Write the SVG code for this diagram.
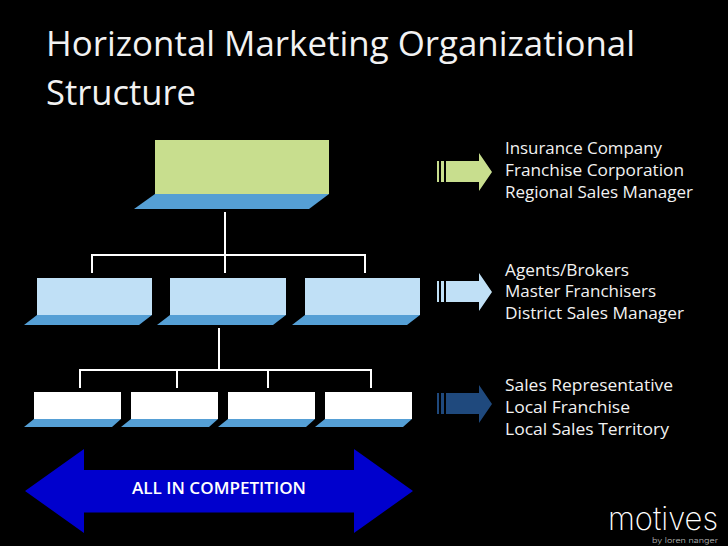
<svg xmlns="http://www.w3.org/2000/svg" width="728" height="546" viewBox="0 0 728 546">
<style>
text{font-family:"Open Sans","DejaVu Sans",sans-serif;fill:#fff}
.t{font-size:35px;fill:#f2f2f2}
.l{font-size:16.5px;fill:#f2f2f2}
.g{fill:#c8de8e}.b{fill:#c0e0f6}.w{fill:#fff}.s{fill:#559fd5}
.c{fill:none;stroke:#fff;stroke-width:2}
</style>
<defs>
<g id="arrow"><path d="M446 161H479V153L492 172L479 191V182H446ZM437 161H439V182H437ZM441 161H444V182H441Z"/></g>
</defs>
<rect width="728" height="546" fill="#000"/>
<g id="title">
<text class="t" x="46" y="56" textLength="589" lengthAdjust="spacingAndGlyphs">Horizontal Marketing Organizational</text>
<text class="t" x="46" y="105" textLength="150" lengthAdjust="spacingAndGlyphs">Structure</text>
</g>
<g id="connectors">
<path class="c" d="M225 212V273M92 273V255H365V273"/>
<path class="c" d="M219 328V370M80 388V370H371V388M177 370V388M268 370V388"/>
</g>
<g id="node-top"><rect class="g" x="155" y="140" width="174" height="54"/><path class="s" d="M155 194H329L309 209H134Z"/></g>
<g id="node-mid-1"><rect class="b" x="37" y="278" width="115" height="37"/><path class="s" d="M37 315H152L139 325H24Z"/></g>
<g id="node-mid-2"><rect class="b" x="170" y="278" width="116" height="37"/><path class="s" d="M170 315H286L273 325H157Z"/></g>
<g id="node-mid-3"><rect class="b" x="305" y="278" width="115" height="37"/><path class="s" d="M305 315H420L407 325H292Z"/></g>
<g id="node-low-1"><rect class="w" x="34" y="392" width="87" height="27"/><path class="s" d="M34 419H121L112 427H24Z"/></g>
<g id="node-low-2"><rect class="w" x="131" y="392" width="87" height="27"/><path class="s" d="M131 419H218L209 427H121Z"/></g>
<g id="node-low-3"><rect class="w" x="228" y="392" width="87" height="27"/><path class="s" d="M228 419H315L306 427H218Z"/></g>
<g id="node-low-4"><rect class="w" x="325" y="392" width="87" height="27"/><path class="s" d="M325 419H412L403 427H315Z"/></g>
<g id="competition">
<path fill="#0000cd" d="M25 491L84 449V470H354V449L413 491L354 533V512.500H84V533Z"/>
<text x="219" y="494" font-size="16.500" font-weight="600" text-anchor="middle" textLength="174" lengthAdjust="spacingAndGlyphs">ALL IN COMPETITION</text>
</g>
<g id="level-1">
<use href="#arrow" fill="#c8de8e"/>
<text class="l" x="505" y="154" textLength="157" lengthAdjust="spacingAndGlyphs">Insurance Company</text>
<text class="l" x="505" y="176" textLength="179" lengthAdjust="spacingAndGlyphs">Franchise Corporation</text>
<text class="l" x="505" y="198" textLength="188" lengthAdjust="spacingAndGlyphs">Regional Sales Manager</text>
</g>
<g id="level-2">
<use href="#arrow" y="120" fill="#c0e0f6"/>
<text class="l" x="505" y="276" textLength="124" lengthAdjust="spacingAndGlyphs">Agents/Brokers</text>
<text class="l" x="505" y="297" textLength="151" lengthAdjust="spacingAndGlyphs">Master Franchisers</text>
<text class="l" x="505" y="319" textLength="179" lengthAdjust="spacingAndGlyphs">District Sales Manager</text>
</g>
<g id="level-3">
<use href="#arrow" y="232" fill="#1f497d"/>
<text class="l" x="505" y="391" textLength="168" lengthAdjust="spacingAndGlyphs">Sales Representative</text>
<text class="l" x="505" y="413" textLength="125" lengthAdjust="spacingAndGlyphs">Local Franchise</text>
<text class="l" x="505" y="435" textLength="164" lengthAdjust="spacingAndGlyphs">Local Sales Territory</text>
</g>
<g id="logo">
<text x="608" y="530" font-size="32" style="font-family:Inter,Lato,sans-serif;font-weight:200" textLength="110" lengthAdjust="spacingAndGlyphs">motives</text>
<text x="652" y="543" font-size="7" style="font-family:Inter,Lato,sans-serif;font-weight:300;fill:#bbb" textLength="66" lengthAdjust="spacingAndGlyphs">by loren nanger</text>
</g>
</svg>
